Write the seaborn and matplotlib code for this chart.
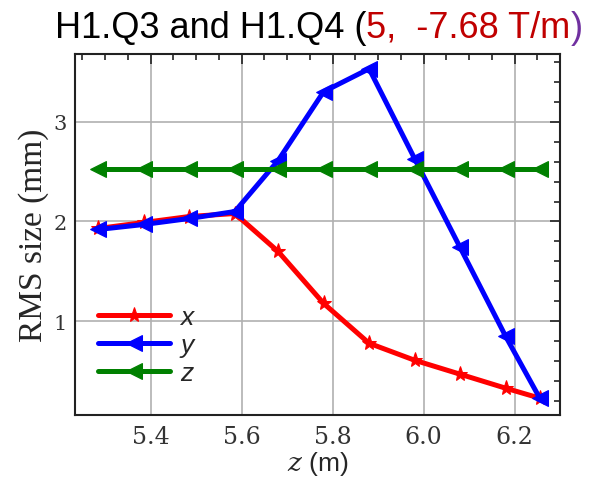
import numpy as np
import pandas as pd
import seaborn as sns
import matplotlib
matplotlib.use("Agg")
import matplotlib.pyplot as plt
from matplotlib.ticker import MultipleLocator

# ---- data ----
z_pos = [5.285, 5.385, 5.485, 5.585, 5.68, 5.78, 5.88, 5.98, 6.08, 6.18, 6.255]
rms_x = [1.93, 1.99, 2.05, 2.08, 1.70, 1.18, 0.78, 0.61, 0.47, 0.33, 0.23]
rms_y = [1.92, 1.97, 2.03, 2.10, 2.61, 3.30, 3.53, 2.63, 1.74, 0.85, 0.23]
rms_z = [2.53, 2.53, 2.53, 2.53, 2.53, 2.53, 2.53, 2.53, 2.53, 2.53, 2.53]
x_ticks = [5.4, 5.6, 5.8, 6.0, 6.2]
y_ticks = [1, 2, 3]

sns.set_style("white")
plt.rcParams["mathtext.fontset"] = "dejavuserif"

fig = plt.figure(figsize=(5.96, 4.85), dpi=100)
ax = fig.add_axes([0.126, 0.142, 0.814, 0.745])

lw = 3.6
sns.lineplot(x=z_pos, y=rms_x, ax=ax, color="#ff0000", lw=lw, marker="*",
             markersize=11, markeredgecolor="#ff0000", label="x")
sns.lineplot(x=z_pos, y=rms_y, ax=ax, color="#0000ff", lw=lw, marker="<",
             markersize=12, markeredgecolor="#0000ff", label="y")
sns.lineplot(x=z_pos, y=rms_z, ax=ax, color="#008000", lw=lw, marker="<",
             markersize=11, markeredgecolor="#008000", label="z")

ax.set_xlim(5.234, 6.30)
ax.set_ylim(0.06, 3.68)
ax.set_xticks(x_ticks)
ax.set_yticks(y_ticks)
ax.set_xticklabels([f"{v:.1f}" for v in x_ticks])
ax.set_yticklabels([str(v) for v in y_ticks])
ax.xaxis.set_minor_locator(MultipleLocator(0.05))
ax.yaxis.set_minor_locator(MultipleLocator(0.2))
ax.tick_params(which="both", direction="in", top=True, right=True,
               colors="#222222", width=1.2)
ax.tick_params(which="major", length=7)
ax.tick_params(which="minor", length=4)
ax.tick_params(axis="x", which="major", labelsize=17, pad=7)
ax.tick_params(axis="y", which="major", labelsize=15, pad=6)
for lab in ax.get_xticklabels() + ax.get_yticklabels():
    lab.set_family("DejaVu Serif")
    lab.set_color("#333333")
ax.grid(True, which="major", color="#b0b0b0", lw=1.2)
for s in ax.spines.values():
    s.set_color("#222222")
    s.set_linewidth(1.5)

ax.set_ylabel("RMS size (mm)", family="Liberation Serif", fontsize=24, labelpad=3)
ax.set_xlabel(r"$z$ (m)", family="Liberation Sans", fontsize=19, labelpad=1)

leg = ax.legend(loc="center left", bbox_to_anchor=(0.026, 0.194), frameon=False,
                borderaxespad=0, handlelength=2.7, handletextpad=0.4,
                labelspacing=0.15,
                prop={"family": "Liberation Sans", "style": "italic", "size": 19},
                numpoints=1)

# ---- title with coloured parts ----
fig.canvas.draw()
r = fig.canvas.get_renderer()
parts = [("H1.Q3 and H1.Q4 (", "#000000"), ("5,  -7.68 T/m", "#c00000"), (")", "#7030a0")]
x0 = 55 / 596
yb = 1 - 38 / 485
for txt, col in parts:
    t = fig.text(x0, yb, txt, color=col, fontsize=26, family="Liberation Sans",
                 ha="left", va="baseline")
    bb = t.get_window_extent(renderer=r)
    x0 = bb.x1 / fig.bbox.width

fig.savefig("out.png", dpi=100)
